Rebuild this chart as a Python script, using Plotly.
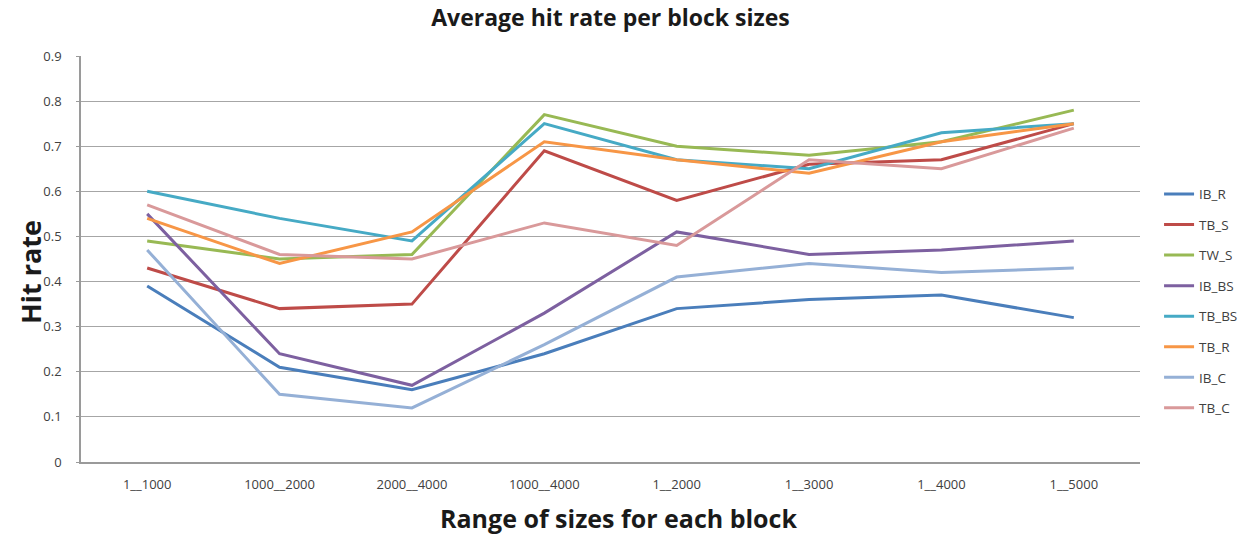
import plotly.graph_objects as go

categories = ["1__1000", "1000__2000", "2000__4000", "1000__4000",
              "1__2000", "1__3000", "1__4000", "1__5000"]

ib_r = [0.39, 0.21, 0.16, 0.24, 0.34, 0.36, 0.37, 0.32]
tb_s = [0.43, 0.34, 0.35, 0.69, 0.58, 0.66, 0.67, 0.75]
tw_s = [0.49, 0.45, 0.46, 0.77, 0.70, 0.68, 0.71, 0.78]
ib_bs = [0.55, 0.24, 0.17, 0.33, 0.51, 0.46, 0.47, 0.49]
tb_bs = [0.60, 0.54, 0.49, 0.75, 0.67, 0.65, 0.73, 0.75]
tb_r = [0.54, 0.44, 0.51, 0.71, 0.67, 0.64, 0.71, 0.75]
ib_c = [0.47, 0.15, 0.12, 0.26, 0.41, 0.44, 0.42, 0.43]
tb_c = [0.57, 0.46, 0.45, 0.53, 0.48, 0.67, 0.65, 0.74]

series_names = ["IB_R", "TB_S", "TW_S", "IB_BS", "TB_BS", "TB_R", "IB_C", "TB_C"]
series_values = [ib_r, tb_s, tw_s, ib_bs, tb_bs, tb_r, ib_c, tb_c]
series_colors = ["#4A7EBB", "#BE4B48", "#98B954", "#7D60A0",
                 "#46AAC5", "#F79646", "#95B0D6", "#D9999A"]

y_ticks = [0, 0.1, 0.2, 0.3, 0.4, 0.5, 0.6, 0.7, 0.8, 0.9]
y_tick_labels = ["0", "0.1", "0.2", "0.3", "0.4", "0.5", "0.6", "0.7", "0.8", "0.9"]

PLOT_W, PLOT_H = 1059, 406

fig = go.Figure()
for name, vals, col in zip(series_names, series_values, series_colors):
    fig.add_trace(go.Scatter(
        x=categories, y=vals, name=name, mode="lines",
        line=dict(color=col, width=3),
        legendgroup=name,
    ))

fig.update_layout(
    width=1251, height=535,
    paper_bgcolor="white", plot_bgcolor="white",
    margin=dict(l=81, r=111, t=56, b=73, autoexpand=False),
    font=dict(family="Open Sans, sans-serif", color="#404040"),
    title=dict(
        text="<b>Average hit rate per block sizes</b>",
        x=0.5, xanchor="center", xref="paper",
        y=0.967, yanchor="middle",
        font=dict(size=23, color="#1a1a1a"),
    ),
    showlegend=True,
    legend=dict(
        x=1.018, xanchor="left", y=0.396, yanchor="middle",
        font=dict(size=13.5, color="#404040"),
        tracegroupgap=10,
        bgcolor="rgba(0,0,0,0)",
    ),
    annotations=[
        dict(
            text="<b>Hit rate</b>", textangle=-90,
            xref="paper", yref="paper",
            x=-51 / PLOT_W, y=(462 - 272) / PLOT_H,
            xanchor="center", yanchor="middle", showarrow=False,
            font=dict(size=27, color="#1a1a1a"),
        ),
        dict(
            text="<b>Range of sizes for each block</b>",
            xref="paper", yref="paper",
            x=(618 - 81) / PLOT_W, y=-(518 - 462) / PLOT_H,
            xanchor="center", yanchor="middle", showarrow=False,
            font=dict(size=25, color="#1a1a1a"),
        ),
    ],
)

fig.update_xaxes(
    type="category",
    range=[-0.5, len(categories) - 0.5],
    showgrid=False, automargin=False,
    showline=True, linecolor="#9a9a9a", linewidth=1.5,
    ticks="", tickfont=dict(size=13, color="#404040"),
    ticklabelstandoff=10,
)
fig.update_yaxes(
    range=[0, 0.9], automargin=False,
    tickvals=y_ticks, ticktext=y_tick_labels,
    showgrid=True, gridcolor="#a6a6a6", gridwidth=1,
    zeroline=False,
    showline=True, linecolor="#9a9a9a", linewidth=1.5,
    ticks="outside", ticklen=3, tickcolor="#9a9a9a",
    tickfont=dict(size=13, color="#404040"),
    ticklabelstandoff=12,
)

fig.write_html("out.html")
